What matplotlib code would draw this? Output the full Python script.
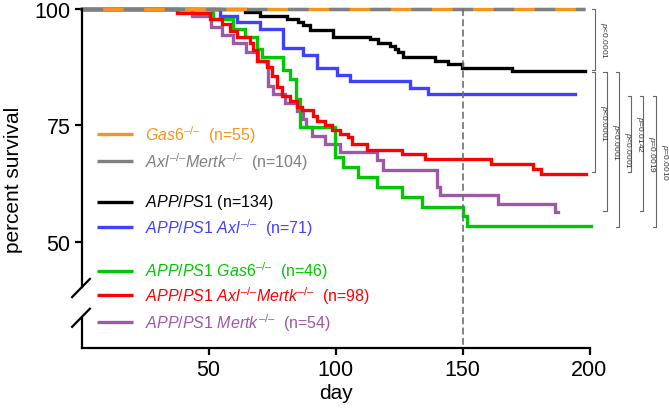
import matplotlib
matplotlib.use("Agg")
import matplotlib.pyplot as plt

plt.rcParams['font.family'] = ['Liberation Sans', 'DejaVu Sans']
plt.rcParams['mathtext.fontset'] = 'custom'
plt.rcParams['mathtext.rm'] = 'Liberation Sans'
plt.rcParams['mathtext.it'] = 'Liberation Sans:italic'
plt.rcParams['mathtext.bf'] = 'Liberation Sans:bold'
plt.rcParams['lines.scale_dashes'] = False

# ---------------- data ----------------
black_days = [64.4, 70.3, 80.8, 85.2, 87.2, 89.9, 99.0, 113.6, 116.7, 121.5, 123.4, 124.6, 126.6, 139.2, 144.3, 149.8, 169.5]
black_surv = [99.3, 98.6, 97.9, 97.2, 96.5, 95.5, 94.0, 93.5, 92.8, 92.1, 91.4, 90.7, 89.6, 88.9, 88.2, 87.4, 86.6]
black_end = 198.2

blue_days = [54.5, 61.1, 70.3, 79.3, 87.2, 92.6, 100.5, 105.7, 129.3, 136.4]
blue_surv = [98.6, 97.2, 95.8, 91.6, 90.1, 87.3, 85.9, 84.5, 83.1, 81.7]
blue_end = 194.3

green_days = [51.8, 59.6, 64.4, 69.1, 71.1, 79.3, 82.1, 84.5, 86.0, 99.8, 102.8, 108.9, 116.2, 126.1, 133.9, 150.3, 151.9]
green_surv = [97.8, 95.7, 93.9, 91.5, 89.6, 87.0, 85.0, 80.7, 74.6, 68.2, 66.0, 63.9, 61.7, 59.6, 57.5, 55.5, 53.4]
green_end = 200.5

red_days = [37.5, 50.6, 55.2, 58.5, 61.1, 66.3, 67.5, 69.0, 72.9, 74.9, 76.9, 78.8, 82.1, 84.7, 86.7,
            91.3, 92.6, 95.9, 98.5, 101.8, 105.0, 106.4, 112.3, 126.1, 135.2, 161.1, 177.9, 180.8]
red_surv = [99.1, 97.9, 96.8, 95.3, 93.9, 92.8, 91.1, 88.9, 87.5, 85.7, 83.2, 81.4, 80.3, 78.9, 78.2,
            77.1, 76.0, 75.1, 74.1, 73.2, 72.5, 71.0, 69.8, 68.9, 67.8, 66.7, 65.7, 64.6]
red_end = 198.6

purple_days = [43.4, 51.0, 55.2, 59.8, 64.7, 69.3, 73.5, 75.2, 80.1, 85.0, 87.3, 88.2, 90.6, 95.9,
               101.8, 116.2, 118.8, 139.8, 141.1, 164.1, 186.4]
purple_surv = [98.4, 96.2, 94.4, 92.6, 90.7, 88.9, 83.5, 81.8, 79.8, 78.0, 76.4, 74.6, 72.8, 71.0,
               69.2, 67.5, 65.5, 61.7, 60.1, 58.2, 56.4]
purple_end = 187.7

ctrl_end = 198.2  # Gas6-/- and Axl-/-Mertk-/- stay at 100

KO = "^{\\mathit{\u2013/\u2013}}"
legend_labels = [
    r"$\mathit{Gas6}" + KO + r"$  (n=55)",
    r"$\mathit{Axl}" + KO + r"\mathit{Mertk}" + KO + r"$  (n=104)",
    r"$\mathit{APP/PS1}$ (n=134)",
    r"$\mathit{APP/PS1\ Axl}" + KO + r"$  (n=71)",
    r"$\mathit{APP/PS1\ Gas6}" + KO + r"$  (n=46)",
    r"$\mathit{APP/PS1\ Axl}" + KO + r"\mathit{Mertk}" + KO + r"$  (n=98)",
    r"$\mathit{APP/PS1\ Mertk}" + KO + r"$  (n=54)",
]
legend_y = [73.2, 67.4, 58.6, 53.1, 43.8, 38.5, 32.8]

pvals = ["p<0.0001", "p<0.0001", "p<0.0001", "p<0.0001", "p=0.0142", "p=0.0019", "p=0.0010"]
br_top = [100.0, 86.4, 86.4, 86.4, 81.4, 81.4, 81.4]
br_bot = [86.8, 65.0, 56.7, 53.2, 64.9, 56.7, 53.2]
br_x = [202.2, 202.2, 206.8, 211.7, 216.3, 221.2, 226.2]

xticks = [50, 100, 150, 200]
yticks = [50, 75, 100]

# ---------------- colours ----------------
c_orange = '#F7941D'
c_gray = '#808080'
c_black = '#000000'
c_blue = '#4040FF'
c_green = '#00C800'
c_red = '#FF0000'
c_purple = '#9B59A6'
legend_colors = [c_orange, c_gray, c_black, c_blue, c_green, c_red, c_purple]

W, H = 669, 410
fig = plt.figure(figsize=(W / 100, H / 100), dpi=100)
ymin = 27.16
ax = fig.add_axes([81.5 / W, 1 - 349 / H, (589.5 - 81.5) / W, (349 - 10) / H])
ax.set_xlim(0, 200)
ax.set_ylim(ymin, 100)

lw = 2.4

def km(days, surv, end, color, z):
    xs = [0] + list(days) + [end]
    ys = [100] + list(surv) + [surv[-1]]
    ax.step(xs, ys, where='post', color=color, lw=lw, zorder=z, clip_on=False, solid_joinstyle='miter')

km(blue_days, blue_surv, blue_end, c_blue, 3)
km(black_days, black_surv, black_end, c_black, 4)
km(purple_days, purple_surv, purple_end, c_purple, 5)
km(green_days, green_surv, green_end, c_green, 6)
km(red_days, red_surv, red_end, c_red, 7)

# controls at 100 %
ax.plot([0, ctrl_end], [100, 100], color=c_orange, lw=lw, zorder=8, clip_on=False, solid_capstyle='butt')
ax.plot([0, ctrl_end], [100, 100], color=c_gray, lw=lw, zorder=9, clip_on=False,
        dashes=(14.8, 14.8), dash_capstyle='butt')

# vertical dashed line at day 150
ax.plot([150, 150], [100, ymin], color='#707070', lw=1.2, dashes=(5, 2.4), zorder=10, clip_on=False)

# spines
for s in ['top', 'right', 'left']:
    ax.spines[s].set_visible(False)
ax.spines['bottom'].set_linewidth(1.6)
ax.plot([0, 0], [100, 40.3], color='black', lw=1.6, clip_on=False, zorder=11, solid_capstyle='projecting')
ax.plot([0, 0], [33.9, ymin], color='black', lw=1.6, clip_on=False, zorder=11, solid_capstyle='projecting')
ax.plot([-3.7, 3.3], [38.1, 42.0], color='black', lw=1.6, clip_on=False, zorder=11)
ax.plot([-3.7, 3.3], [31.7, 35.6], color='black', lw=1.6, clip_on=False, zorder=11)

ax.set_xticks(xticks)
ax.set_yticks(yticks)
ax.tick_params(axis='both', labelsize=15.5, length=5, width=1.6, direction='out', pad=3)
ax.set_xlabel('day', fontsize=15, labelpad=2)
ax.set_ylabel('percent survival', fontsize=15, labelpad=8)

# legend (manual)
for lab, yy, col in zip(legend_labels, legend_y, legend_colors):
    ax.plot([6.1, 20.3], [yy, yy], color=col, lw=lw, clip_on=False, solid_capstyle='butt')
    ax.text(25, yy, lab, color=col, fontsize=11.5, va='center', ha='left')

# significance brackets
tick = 1.3
for lab, yt, yb, xb in zip(pvals, br_top, br_bot, br_x):
    ax.plot([xb - tick, xb, xb, xb - tick], [yt, yt, yb, yb], color='#666666', lw=0.8,
            clip_on=False)
    ax.text(xb + 1.2, (yt + yb) / 2, r"$\mathit{p}$" + lab[1:], rotation=270, fontsize=6,
            color='#333333', ha='left', va='center', clip_on=False)

fig.savefig('out.png', dpi=100)
